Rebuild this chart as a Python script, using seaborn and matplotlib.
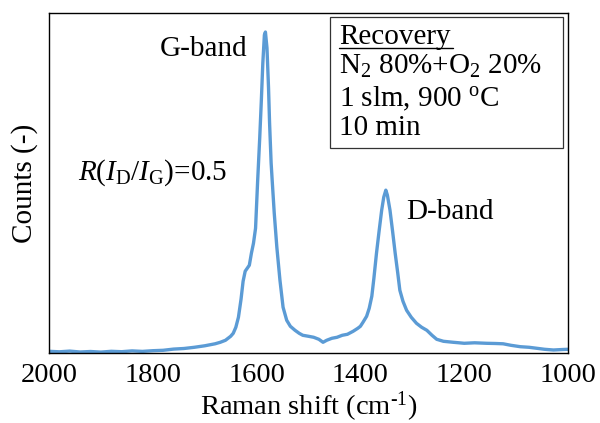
import seaborn as sns
import matplotlib.pyplot as plt
import pandas as pd
from matplotlib.patches import Rectangle

# Raman spectrum (counts in arbitrary units)
shift = [2000, 1980, 1960, 1940, 1920, 1900, 1880, 1860, 1840, 1820,
         1800, 1780, 1760, 1740, 1720, 1700, 1690, 1680, 1670, 1660,
         1655, 1650, 1645, 1640, 1635, 1630, 1626, 1622, 1618, 1614,
         1610, 1606, 1602, 1598, 1594, 1591, 1588, 1585, 1583, 1580,
         1577, 1575, 1572, 1570, 1566, 1561, 1555, 1549, 1542, 1535,
         1526, 1518, 1511, 1500, 1490, 1480, 1472, 1465, 1455, 1445,
         1435, 1425, 1414, 1405, 1400, 1395, 1388, 1383, 1378, 1374,
         1369, 1364, 1359, 1355, 1351, 1348, 1343, 1338, 1333, 1328,
         1324, 1318, 1311, 1302, 1292, 1282, 1272, 1262, 1253, 1240,
         1221, 1210, 1200, 1180, 1157, 1140, 1125, 1110, 1092, 1075,
         1060, 1045, 1028, 1010, 1000]
counts = [2.0, 1.5, 2.2, 1.3, 1.8, 1.2, 2.0, 1.6, 2.4, 1.9,
          2.6, 3.0, 4.2, 4.8, 6.0, 7.5, 8.5, 9.5, 11, 13,
          15, 17, 20, 26, 36, 54, 72, 82, 85, 88,
          100, 110, 125, 172, 215, 251, 290, 318, 321, 305,
          265, 230, 190, 173, 140, 106, 73, 46, 33, 27,
          23, 20, 18, 17, 16, 14, 11, 13, 15, 16,
          18, 19, 22, 25, 27, 31, 37, 45, 57, 75,
          100, 122, 143, 156, 163, 158, 143, 122, 100, 80,
          63, 52, 43, 36, 30, 26, 23, 18, 14, 12,
          11, 10.5, 10, 10.5, 10, 9.8, 9.5, 8, 6.6, 6,
          5, 4, 3.3, 3.8, 4]
xticks = [2000, 1800, 1600, 1400, 1200, 1000]

df = pd.DataFrame({'shift': shift, 'counts': counts})

sns.set_theme(style='white')
plt.rcParams['font.family'] = ['Liberation Serif', 'DejaVu Serif']
plt.rcParams['mathtext.fontset'] = 'custom'
plt.rcParams['mathtext.rm'] = 'Liberation Serif'
plt.rcParams['mathtext.it'] = 'Liberation Serif:italic'
plt.rcParams['text.color'] = 'black'
plt.rcParams['axes.labelcolor'] = 'black'

fig = plt.figure(figsize=(6, 4.23), dpi=100)
ax = fig.add_axes([49 / 600, 1 - 353.3 / 423, 519 / 600, 340.3 / 423])

sns.lineplot(data=df, x='shift', y='counts', ax=ax, color='#5b9bd5', linewidth=2.4)

ax.set_xlim(2000, 1000)
ax.set_ylim(0, 340)
ax.set_xticks(xticks)
ax.set_xticklabels([str(t) for t in xticks], fontsize=20.5)
ax.set_yticks([])
ax.tick_params(axis='x', direction='in', length=5, width=1, pad=7, colors='black')
for s in ax.spines.values():
    s.set_color('black')
    s.set_linewidth(1.0)
ax.set_xlabel(r'Raman shift (cm$^{\text{-}1}$)', fontsize=20.5, labelpad=1)
ax.set_ylabel('Counts (-)', fontsize=21, labelpad=8)

def px(x, y):
    return x / 600, 1 - y / 423

fig.text(*px(160, 56), 'G-band', fontsize=21, va='baseline')
fig.text(*px(406, 219), 'D-band', fontsize=21, va='baseline')
fig.text(*px(78, 180), r'$R$($I_{\rm D}$/$I_{\rm G}$)=0.5', fontsize=21, va='baseline')

# condition box
fig.patches.append(Rectangle(px(330, 148), 233 / 600, 131 / 423, transform=fig.transFigure,
                             fill=False, edgecolor='#333333', linewidth=0.9))
fig.text(*px(339, 44), 'Recovery', fontsize=21, va='baseline')
fig.add_artist(plt.Line2D([339 / 600, 453 / 600], [1 - 48.5 / 423] * 2,
                          color='black', linewidth=1.0))
fig.text(*px(339, 74), r'N$_2$ 80%+O$_2$ 20%', fontsize=21, va='baseline')
fig.text(*px(339, 106), r'1 slm, 900 $^{\rm o}$C', fontsize=21, va='baseline')
fig.text(*px(339, 135), '10 min', fontsize=21, va='baseline')

plt.savefig('out.png', dpi=100)
